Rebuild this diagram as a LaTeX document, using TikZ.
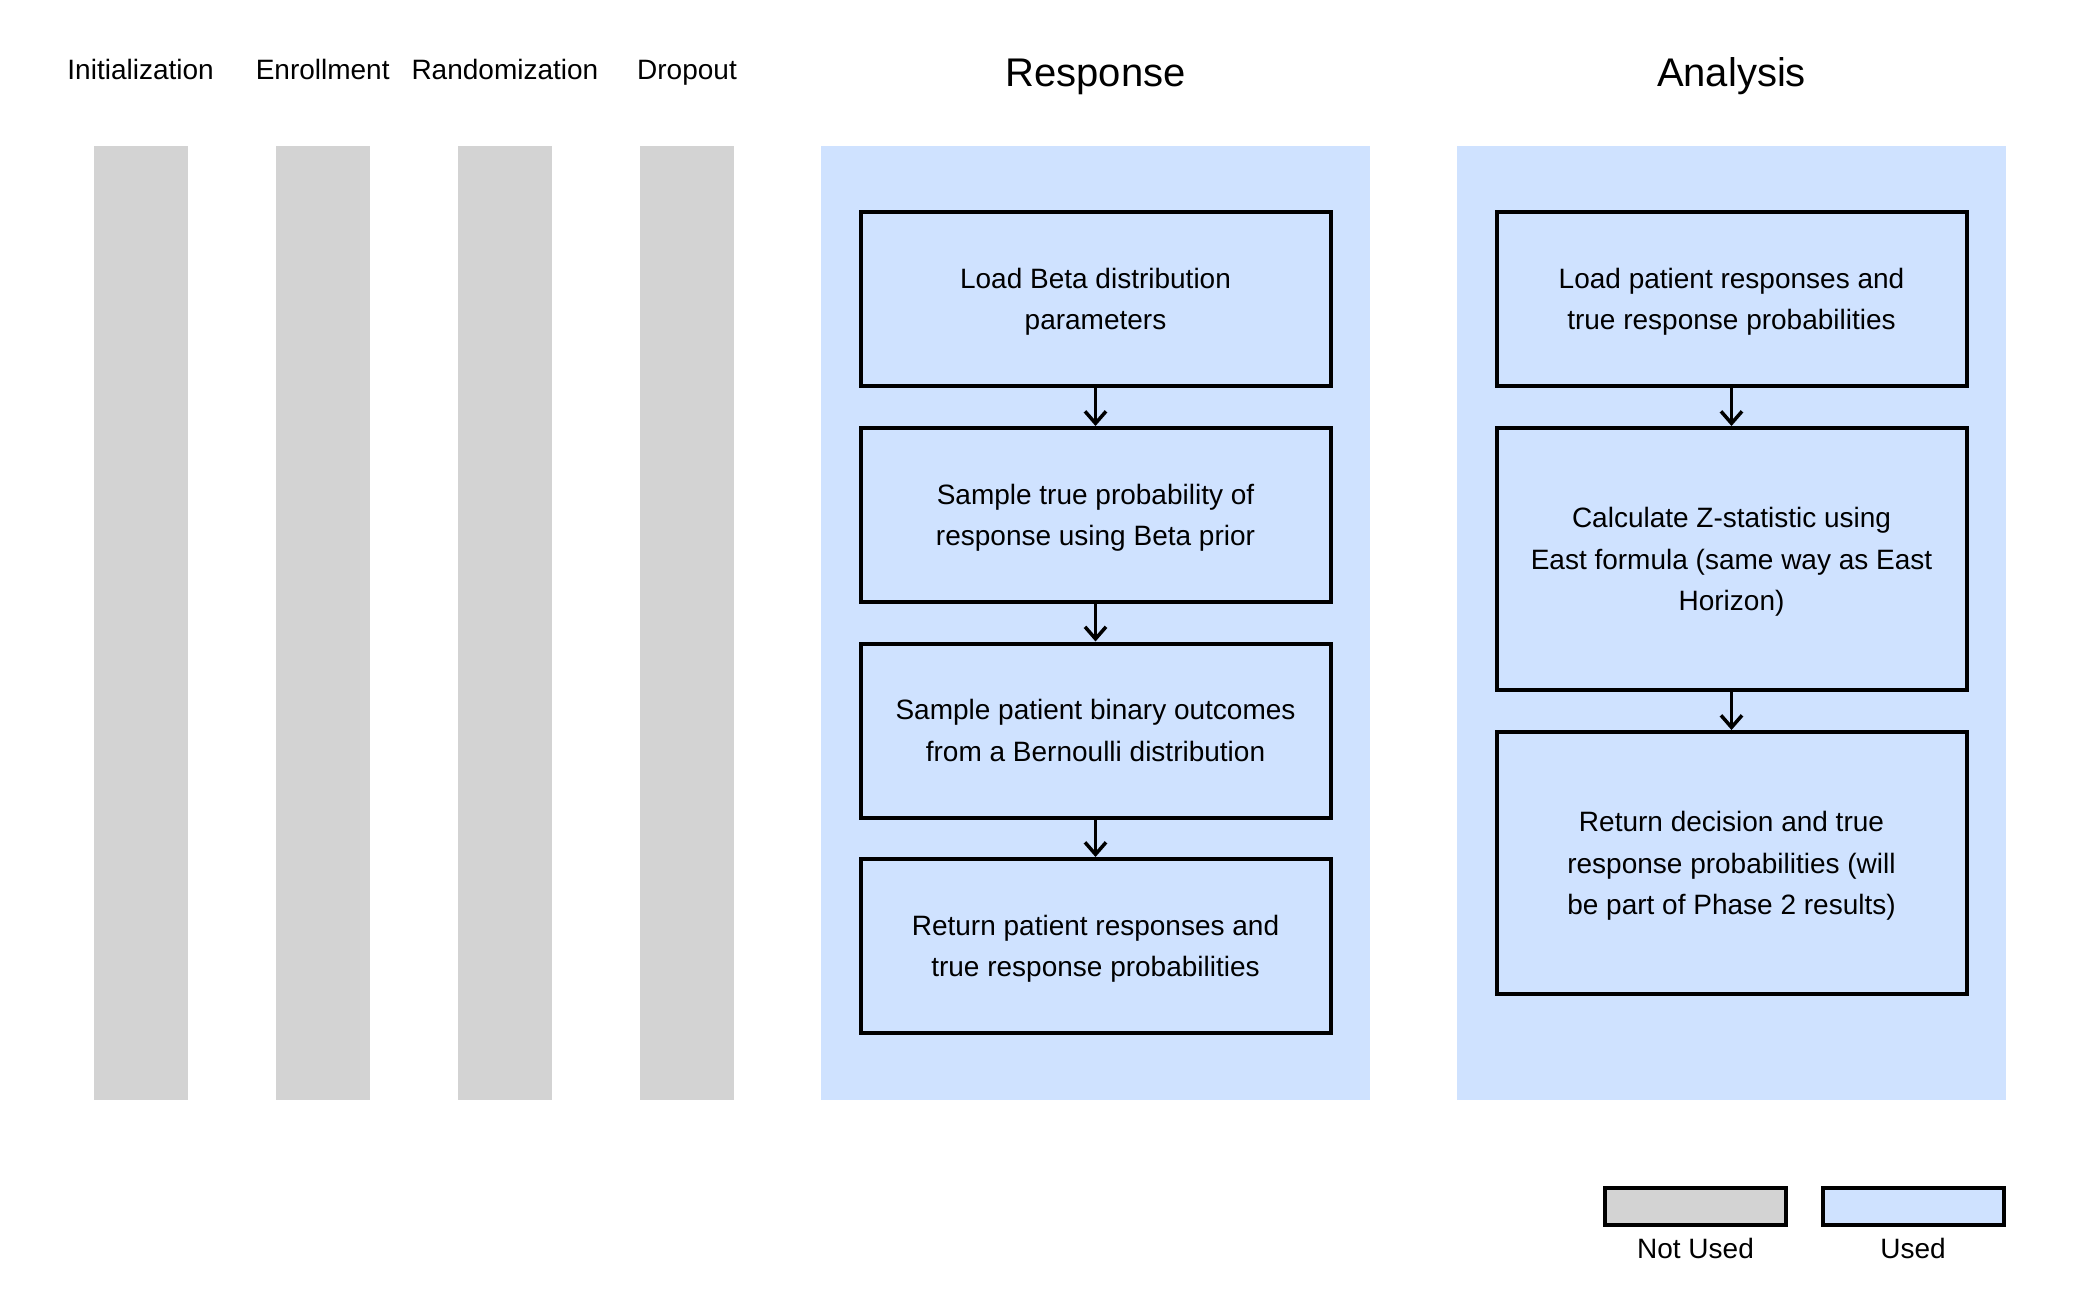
\documentclass[tikz,border=0pt]{standalone}
\usepackage{fontspec}
\setmainfont{Liberation Sans}
\usetikzlibrary{arrows.meta}
\definecolor{unusedgray}{HTML}{D3D3D3}
\definecolor{usedblue}{HTML}{CFE2FF}
\begin{document}
\begin{tikzpicture}[x=1pt,y=-1pt,
  col/.style={fill=unusedgray, draw=none, minimum width=94pt, minimum height=954pt, inner sep=0pt, outer sep=0pt},
  panel/.style={fill=usedblue, draw=none, minimum width=549pt, minimum height=954pt, inner sep=0pt, outer sep=0pt},
  stepbox/.style={draw=black, line width=4pt, fill=usedblue, minimum width=470pt, minimum height=174pt, inner sep=0pt, text depth=-2pt, align=center, font=\fontsize{28}{41.5}\selectfont},
  tallbox/.style={stepbox, minimum height=262pt},
  lbl/.style={anchor=base, font=\fontsize{28}{34}\selectfont, inner sep=0pt},
  head/.style={anchor=base, font=\fontsize{40}{48}\selectfont, inner sep=0pt},
  legbox/.style={draw=black, line width=4pt, minimum width=181pt, minimum height=37pt, inner sep=0pt},
  arr/.style={line width=3.5pt, -{Straight Barb[length=12pt,width=21pt,line width=3.5pt]}}
]
\useasboundingbox (0,0) rectangle (2100,1297);

% gray columns and labels
\node[col] (c1) at (140.6,623) {};
\node[col] (c2) at (322.7,623) {};
\node[col] (c3) at (504.9,623) {};
\node[col] (c4) at (687,623) {};
\node[lbl] (t1) at (140.6,80) {Initialization};
\node[lbl] (t2) at (322.7,80) {Enrollment};
\node[lbl] (t3) at (504.9,80) {Randomization};
\node[lbl] (t4) at (687,80) {Dropout};

% panels
\node[panel] (pr) at (1095.5,623) {};
\node[panel] (pa) at (1731.5,623) {};
\node[head] (hr) at (1095.5,87) {Response};
\node[head] (ha) at (1731.5,87) {Analysis};

% response boxes
\node[stepbox] (r1) at (1095.5,299) {Load Beta distribution\\parameters};
\node[stepbox] (r2) at (1095.5,515) {Sample true probability of\\response using Beta prior};
\node[stepbox] (r3) at (1095.5,730.5) {Sample patient binary outcomes\\from a Bernoulli distribution};
\node[stepbox] (r4) at (1095.5,946) {Return patient responses and\\true response probabilities};
\draw[arr] (r1.south) -- (r2.north);
\draw[arr] (r2.south) -- (r3.north);
\draw[arr] (r3.south) -- (r4.north);

% analysis boxes
\node[stepbox] (a1) at (1731.5,299) {Load patient responses and\\true response probabilities};
\node[tallbox] (a2) at (1731.5,559) {Calculate Z-statistic using\\East formula (same way as East\\Horizon)};
\node[tallbox] (a3) at (1731.5,863) {Return decision and true\\response probabilities (will\\be part of Phase 2 results)};
\draw[arr] (a1.south) -- (a2.north);
\draw[arr] (a2.south) -- (a3.north);

% legend
\node[legbox, fill=unusedgray] (l1) at (1695.5,1206) {};
\node[legbox, fill=usedblue] (l2) at (1913,1206) {};
\node[lbl] (lt1) at (1695.5,1258) {Not Used};
\node[lbl] (lt2) at (1913,1258) {Used};
\end{tikzpicture}
\end{document}
